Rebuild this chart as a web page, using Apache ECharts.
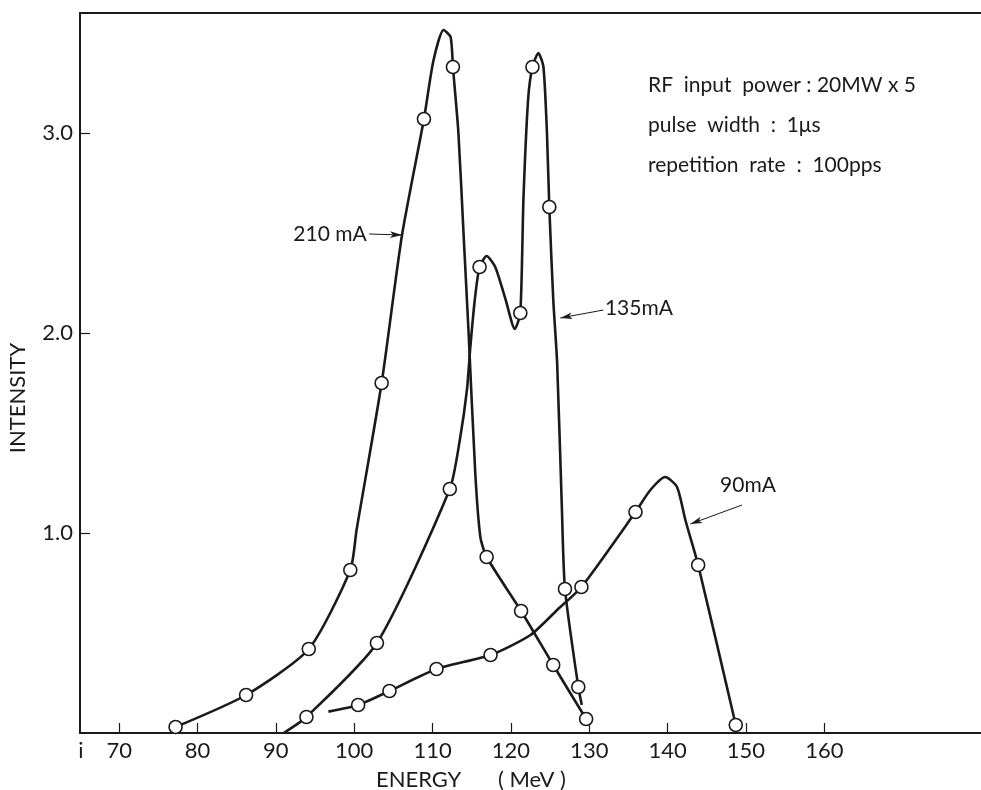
<!DOCTYPE html>
<html>
<head>
<meta charset="utf-8">
<title>Energy spectrum</title>
<script src="https://cdn.jsdelivr.net/npm/echarts@6/dist/echarts.min.js"></script>
<style>
  html, body { margin: 0; padding: 0; background: #fff; }
  #chart { width: 981px; height: 790px; }
</style>
</head>
<body>
<div id="chart"></div>
<script>
// tick labels
const xTicks = [70, 80, 90, 100, 110, 120, 130, 140, 150, 160]
const yTicks = [1, 2, 3]

// measured points (open circles)  [energy MeV, intensity]
const pts210 = [[77.2, 0.03], [86.2, 0.19], [94.2, 0.42], [99.5, 0.815], [103.5, 1.75], [108.9, 3.07],
  [112.6, 3.33], [116.9, 0.88], [121.3, 0.61], [125.4, 0.34], [129.6, 0.07]]
const pts135 = [[93.9, 0.08], [102.9, 0.45], [112.2, 1.22], [116.0, 2.33], [121.2, 2.10], [122.75, 3.33],
  [124.9, 2.63], [126.9, 0.72], [128.6, 0.23]]
const pts90 = [[100.5, 0.14], [104.5, 0.21], [110.5, 0.32], [117.4, 0.39], [129.0, 0.73], [135.9, 1.105],
  [143.9, 0.84], [148.7, 0.04]]

// hand drawn curves
const curve210 = [[77.2, 0.03], [86.2, 0.19], [94.2, 0.42], [99.5, 0.815], [100.3, 1.015], [103.5, 1.75],
  [106.1, 2.49], [108.9, 3.07], [110.1, 3.36], [111.4, 3.515], [112.3, 3.48], [112.6, 3.33], [113.3, 3.0],
  [113.95, 2.5], [114.6, 2.0], [115.45, 1.3], [116.1, 0.98], [116.9, 0.88], [121.3, 0.61], [125.4, 0.34],
  [129.6, 0.07]]
const curve135 = [[91.0, 0], [93.9, 0.08], [102.9, 0.45], [112.2, 1.22], [113.5, 1.47], [114.4, 1.72],
  [114.8, 1.92], [115.4, 2.17], [116.0, 2.33], [116.9, 2.385], [118.0, 2.33], [119.3, 2.17], [120.5, 2.02],
  [121.2, 2.10], [121.6, 2.67], [122.2, 3.17], [122.75, 3.33], [123.5, 3.40], [124.15, 3.33], [124.6, 3.0],
  [124.9, 2.63], [125.4, 2.17], [125.9, 1.85], [126.5, 1.13], [126.9, 0.72], [128.6, 0.23], [129.05, 0.14]]
const curve90 = [[96.7, 0.107], [100.5, 0.14], [104.5, 0.21], [110.5, 0.32], [117.4, 0.39], [122.5, 0.49],
  [125.9, 0.615], [129.0, 0.73], [135.9, 1.105], [137.8, 1.215], [139.7, 1.28], [141.2, 1.23], [142.3, 1.06],
  [143.9, 0.84], [148.7, 0.04]]

// label arrows: [text, arrow from, arrow to, text anchor, align]
const arrows = [
  ['210 mA', [101.9, 2.495], [106.1, 2.49], [101.6, 2.495], 'right'],
  ['135mA', [131.8, 2.115], [126.3, 2.075], [132.0, 2.125], 'left'],
  ['90mA', [149.5, 1.14], [142.9, 1.045], [146.7, 1.24], 'left'],
]

const FONT = 'Lato, "Noto Sans", sans-serif'
const INK = '#1a1a1a'

const chart = echarts.init(document.getElementById('chart'))

const curveSeries = (data, idx) => ({
  type: 'line',
  data: data,
  smooth: 0.22,
  showSymbol: false,
  symbol: 'none',
  lineStyle: { color: INK, width: 2.6 },
  markLine: {
    silent: true,
    symbol: ['none', 'arrow'],
    symbolSize: [5, 12],
    lineStyle: { color: INK, width: 1, type: 'solid' },
    label: { show: false },
    data: [[{ coord: arrows[idx][1] }, { coord: arrows[idx][2] }]],
  },
})

const pointSeries = (data) => ({
  type: 'scatter',
  data: data,
  symbol: 'circle',
  symbolSize: 13,
  z: 5,
  itemStyle: { color: '#fff', borderColor: INK, borderWidth: 1.6, opacity: 1 },
})

const option = {
  animation: false,
  backgroundColor: '#fff',
  grid: { left: 80, right: 0, top: 13, bottom: 57 },
  xAxis: [
    {
      type: 'value',
      min: 65,
      max: 180,
      position: 'bottom',
      axisLine: { lineStyle: { color: INK, width: 2 } },
      axisTick: { inside: true, length: 10, customValues: xTicks, lineStyle: { color: INK, width: 1.2 } },
      axisLabel: { customValues: xTicks, color: INK, fontFamily: FONT, fontSize: 22, margin: 7 },
      splitLine: { show: false },
    },
    {
      type: 'value',
      min: 65,
      max: 180,
      position: 'top',
      axisLine: { show: true, lineStyle: { color: INK, width: 2 } },
      axisTick: { show: false },
      axisLabel: { show: false },
      splitLine: { show: false },
    },
  ],
  yAxis: {
    type: 'value',
    min: 0,
    max: 3.6,
    axisLine: { show: true, lineStyle: { color: INK, width: 2 } },
    axisTick: { show: true, inside: true, length: 10, customValues: yTicks, lineStyle: { color: INK, width: 1.2 } },
    axisLabel: {
      customValues: yTicks,
      formatter: (v) => v.toFixed(1),
      color: INK,
      fontFamily: FONT,
      fontSize: 22,
      margin: 7,
    },
    splitLine: { show: false },
  },
  series: [
    curveSeries(curve210, 0),
    curveSeries(curve135, 1),
    curveSeries(curve90, 2),
    pointSeries(pts210),
    pointSeries(pts135),
    pointSeries(pts90),
  ],
}

chart.setOption(option)

// fixed texts, plus the curve labels placed at data coordinates
const texts = [
  {
    type: 'text',
    x: 648,
    y: 65,
    style: {
      text: 'RF  input  power : 20MW x 5\npulse  width  :  1μs\nrepetition  rate  :  100pps',
      font: '21px ' + FONT,
      fill: INK,
      lineHeight: 40,
    },
  },
  { type: 'text', x: 376, y: 780, style: { text: 'ENERGY', font: '22px ' + FONT, fill: INK, verticalAlign: 'middle' } },
  { type: 'text', x: 498, y: 780, style: { text: '( MeV )', font: '22px ' + FONT, fill: INK, verticalAlign: 'middle' } },
  {
    type: 'text',
    x: 18,
    y: 398,
    rotation: Math.PI / 2,
    style: { text: 'INTENSITY', font: '22px ' + FONT, fill: INK, align: 'center', verticalAlign: 'middle' },
  },
  { type: 'text', x: 81, y: 751, style: { text: 'i', font: '22px ' + FONT, fill: INK, align: 'center', verticalAlign: 'middle' } },
]
arrows.forEach((a) => {
  const p = chart.convertToPixel({ seriesIndex: 0 }, a[3])
  texts.push({
    type: 'text',
    x: p[0],
    y: p[1],
    style: { text: a[0], font: '21px ' + FONT, fill: INK, align: a[4], verticalAlign: 'middle' },
  })
})
chart.setOption({ graphic: texts })
</script>
</body>
</html>
